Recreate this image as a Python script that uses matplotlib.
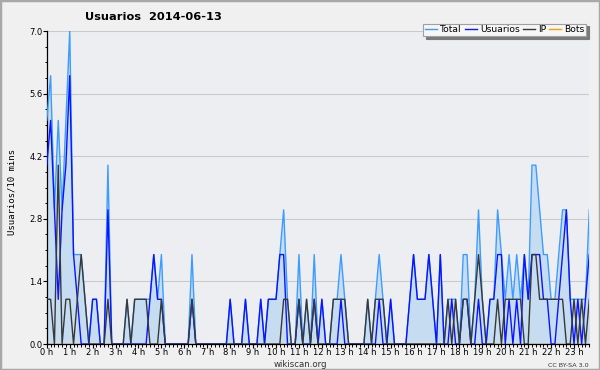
import matplotlib
matplotlib.use("Agg")
import matplotlib.pyplot as plt
from matplotlib.patches import Rectangle
from matplotlib.ticker import MultipleLocator, FuncFormatter

# users per 10-minute slot, one row per hour (6 slots each, last slot 23:40)
total = [
    5, 6, 3, 5, 3, 5,
    7, 2, 2, 2, 1, 0,
    1, 1, 0, 0, 4, 0,
    0, 0, 0, 1, 0, 1,
    1, 1, 1, 1, 2, 1,
    2, 0, 0, 0, 0, 0,
    0, 0, 2, 0, 0, 0,
    0, 0, 0, 0, 0, 0,
    1, 0, 0, 0, 1, 0,
    0, 0, 1, 0, 1, 1,
    1, 2, 3, 1, 0, 0,
    2, 0, 1, 0, 2, 0,
    1, 0, 0, 1, 1, 2,
    1, 0, 0, 0, 0, 0,
    1, 0, 1, 2, 1, 0,
    1, 0, 0, 0, 0, 1,
    2, 1, 1, 1, 2, 1,
    0, 2, 0, 1, 1, 1,
    0, 2, 2, 0, 1, 3,
    1, 0, 1, 1, 3, 2,
    1, 2, 1, 2, 1, 2,
    1, 4, 4, 3, 2, 2,
    1, 1, 2, 3, 3, 1,
    1, 1, 1, 1, 3,
]
usuarios = [
    4, 5, 3, 1, 3, 4,
    6, 2, 1, 0, 0, 0,
    1, 1, 0, 0, 3, 0,
    0, 0, 0, 0, 0, 0,
    0, 0, 0, 1, 2, 1,
    1, 0, 0, 0, 0, 0,
    0, 0, 1, 0, 0, 0,
    0, 0, 0, 0, 0, 0,
    1, 0, 0, 0, 1, 0,
    0, 0, 1, 0, 1, 1,
    1, 2, 2, 0, 0, 0,
    1, 0, 0, 0, 1, 0,
    1, 0, 0, 0, 0, 1,
    0, 0, 0, 0, 0, 0,
    0, 0, 0, 1, 0, 0,
    1, 0, 0, 0, 0, 1,
    2, 1, 1, 1, 2, 1,
    0, 2, 0, 0, 1, 0,
    0, 1, 1, 0, 0, 1,
    0, 0, 1, 1, 2, 2,
    0, 1, 0, 1, 0, 2,
    1, 2, 2, 2, 1, 1,
    0, 0, 1, 2, 3, 1,
    0, 1, 0, 1, 2,
]
ip = [
    1, 1, 0, 4, 0, 1,
    1, 0, 1, 2, 1, 0,
    0, 0, 0, 0, 1, 0,
    0, 0, 0, 1, 0, 1,
    1, 1, 1, 0, 0, 0,
    1, 0, 0, 0, 0, 0,
    0, 0, 1, 0, 0, 0,
    0, 0, 0, 0, 0, 0,
    0, 0, 0, 0, 0, 0,
    0, 0, 0, 0, 0, 0,
    0, 0, 1, 1, 0, 0,
    1, 0, 1, 0, 1, 0,
    0, 0, 0, 1, 1, 1,
    1, 0, 0, 0, 0, 0,
    1, 0, 1, 1, 1, 0,
    0, 0, 0, 0, 0, 0,
    0, 0, 0, 0, 0, 0,
    0, 0, 0, 1, 0, 1,
    0, 1, 1, 0, 1, 2,
    1, 0, 0, 0, 1, 0,
    1, 1, 1, 1, 1, 0,
    0, 2, 2, 1, 1, 1,
    1, 1, 1, 1, 0, 0,
    1, 0, 1, 0, 1,
]
bots = [
    0, 0, 0, 0, 0, 0, 0, 0, 0, 0, 0, 0, 0, 0, 0, 0, 0, 0, 0, 0, 0, 0, 0, 0,
    0, 0, 0, 0, 0, 0, 0, 0, 0, 0, 0, 0, 0, 0, 0, 0, 0, 0, 0, 0, 0, 0, 0, 0,
    0, 0, 0, 0, 0, 0, 0, 0, 0, 0, 0, 0, 0, 0, 0, 0, 0, 0, 0, 0, 0, 0, 0, 0,
    0, 0, 0, 0, 0, 0, 0, 0, 0, 0, 0, 0, 0, 0, 0, 0, 0, 0, 0, 0, 0, 0, 0, 0,
    0, 0, 0, 0, 0, 0, 0, 0, 0, 0, 0, 0, 0, 0, 0, 0, 0, 0, 0, 0, 0, 0, 0, 0,
    0, 0, 0, 0, 0, 0, 0, 0, 0, 0, 0, 0, 0, 0, 0, 0, 0, 0, 0, 0, 0, 0, 0,
]
hours = list(range(24))
title = "Usuarios  2014-06-13"

slots = list(range(len(total)))

fig = plt.figure(figsize=(6, 3.7), dpi=100)
fig.patch.set_facecolor("#f0f0f0")
fig.patches.append(Rectangle((0, 0), 1, 1, transform=fig.transFigure,
                             fill=False, edgecolor="#a8a8a8", lw=2.5))

ax = fig.add_axes([46.8 / 600, 26 / 370, 542.5 / 600, 313 / 370])
ax.set_facecolor("#eceef1")

ax.fill_between(slots, total, 0, color="#c6ddf1", lw=0, zorder=1)
ax.plot(slots, bots, color="#ff9c00", lw=1.0, label="Bots", zorder=2)
ax.plot(slots, total, color="#3d9cff", lw=1.0, label="Total", zorder=3)
ax.plot(slots, usuarios, color="#0a14ff", lw=1.0, label="Usuarios", zorder=4)
ax.plot(slots, ip, color="#383838", lw=1.0, label="IP", zorder=5)

ax.set_xlim(0, len(slots) - 1)
ax.set_ylim(0, 7)
ax.set_xticks([h * 6 for h in hours])
ax.set_xticklabels([f"{h} h" for h in hours])
ax.xaxis.set_minor_locator(MultipleLocator(1))
ax.yaxis.set_major_locator(MultipleLocator(1.4))
ax.yaxis.set_minor_locator(MultipleLocator(0.35))
ax.yaxis.set_major_formatter(FuncFormatter(lambda v, p: f"{v:.1f}"))
ax.tick_params(which="major", length=2.6, width=0.8, labelsize=6, pad=0.6, colors="black")
ax.tick_params(which="minor", length=1.8, width=0.7)
ax.grid(axis="y", color="#cacaca", lw=0.8)
ax.set_axisbelow(True)
for s in ("top", "right"):
    ax.spines[s].set_visible(False)
for s in ("left", "bottom"):
    ax.spines[s].set_linewidth(0.9)

handles, labels = ax.get_legend_handles_labels()
order = [labels.index(n) for n in ("Total", "Usuarios", "IP", "Bots")]
leg = fig.legend([handles[i] for i in order], [labels[i] for i in order],
                 loc="upper right", bbox_to_anchor=(591 / 600, 1 - 19 / 370),
                 ncol=4, fontsize=6.6, handlelength=1.3, handletextpad=0.35,
                 columnspacing=0.35, borderpad=0.2, fancybox=False,
                 framealpha=1, facecolor="#f6f6f6", edgecolor="#a0a0a0",
                 shadow={"color": "#7a7a7a", "alpha": 1, "ox": 2, "oy": -2})
leg.get_frame().set_linewidth(0.8)

fig.text(85 / 600, 1 - 17 / 370, title, fontsize=8.2, fontweight="bold", va="center")
fig.text(12 / 600, 1 - 192 / 370, "Usuarios/10 mins", rotation=90, fontsize=6.5,
         family="DejaVu Sans Mono", va="center", ha="center")
fig.text(300 / 600, 1 - 364.5 / 370, "wikiscan.org", fontsize=6.2, color="#333333",
         ha="center", va="center")
fig.text(589 / 600, 1 - 365.5 / 370, "CC BY-SA 3.0", fontsize=4.6, color="#333333",
         ha="right", va="center")

fig.savefig("out.png", dpi=100, facecolor=fig.get_facecolor())
